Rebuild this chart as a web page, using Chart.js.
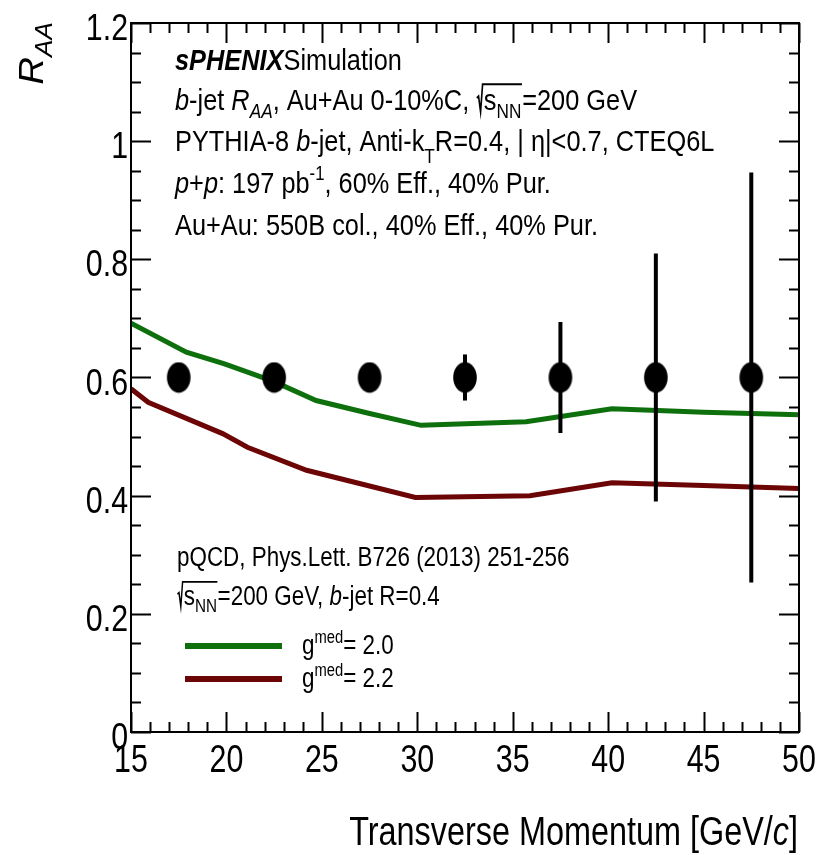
<!DOCTYPE html>
<html><head><meta charset="utf-8">
<script src="https://cdn.jsdelivr.net/npm/chart.js@4/dist/chart.umd.min.js"></script>
<style>html,body{margin:0;padding:0;background:#fff;}canvas{display:block}</style>
</head><body>
<canvas id="c" width="828" height="855"></canvas>
<script>
// ---- data ----
const ptX   = [17.5, 22.5, 27.5, 32.5, 37.5, 42.5, 47.5];
const ptY   = [0.6, 0.6, 0.6, 0.6, 0.6, 0.6, 0.6];
const ptErr = [0.008, 0.012, 0.02, 0.039, 0.094, 0.21, 0.347];

const g20X = [15, 17.9, 19.9, 22.5, 24.7, 27.5, 30.2, 35.7, 40.2, 45, 50];
const g20Y = [0.692, 0.643, 0.623, 0.593, 0.561, 0.539, 0.519, 0.525, 0.547, 0.541, 0.537];

const g22X = [15, 15.9, 19.8, 21.1, 24.2, 29.9, 35.9, 40.2, 45, 50];
const g22Y = [0.581, 0.558, 0.505, 0.482, 0.443, 0.397, 0.400, 0.422, 0.417, 0.412];

const seriesLabels = ['2.0', '2.2'];

const xTickVals   = [15, 20, 25, 30, 35, 40, 45, 50];
const xTickLabels = ['15', '20', '25', '30', '35', '40', '45', '50'];
const yTickVals   = [0, 0.2, 0.4, 0.6, 0.8, 1, 1.2];
const yTickLabels = ['0', '0.2', '0.4', '0.6', '0.8', '1', '1.2'];

const xTitle = 'Transverse Momentum [GeV/';
// ---- helpers ----
const FONT = '"Liberation Sans", Arial, Helvetica, sans-serif';
const GREEN = '#0d700d';
const RED = '#6c0505';
function fontStr(st, sz) { return (st || 'normal') + ' ' + sz + 'px ' + FONT; }

function layoutRich(ctx, segs, size, draw, x0, y0) {
  let x = x0;
  for (const s of segs) {
    if (s.sqrt) {
      const sx = x;
      x += size * 0.30;
      const end = layoutRich(ctx, s.sqrt, size, draw, x, y0);
      if (draw) {
        ctx.save();
        ctx.lineWidth = size * 0.065;
        ctx.strokeStyle = '#000';
        ctx.lineJoin = 'miter';
        ctx.beginPath();
        ctx.moveTo(sx + size * 0.02, y0 - size * 0.40);
        ctx.lineTo(sx + size * 0.09, y0 - size * 0.46);
        ctx.lineTo(sx + size * 0.17, y0 + size * 0.06);
        ctx.lineTo(sx + size * 0.25, y0 - size * 0.86);
        ctx.lineTo(end + size * 0.02, y0 - size * 0.86);
        ctx.stroke();
        ctx.restore();
      }
      x = end + size * 0.03;
      continue;
    }
    let sz = size, dy = 0;
    if (s.sub) { sz = size * 0.68; dy = size * (s.low || 0.26); }
    if (s.sup) { sz = size * 0.66; dy = -size * 0.42; }
    ctx.font = fontStr(s.f, sz);
    if (draw) ctx.fillText(s.t, x, y0 + dy);
    x += ctx.measureText(s.t).width + (s.dx || 0) * size;
  }
  return x;
}
function drawRich(ctx, x, y, segs, size, hs, align) {
  ctx.save();
  ctx.translate(x, y);
  ctx.scale(hs, 1);
  ctx.fillStyle = '#000';
  ctx.textBaseline = 'alphabetic';
  ctx.textAlign = 'left';
  let start = 0;
  if (align === 'right' || align === 'center') {
    const w = layoutRich(ctx, segs, size, false, 0, 0);
    start = align === 'right' ? -w : -w / 2;
  }
  layoutRich(ctx, segs, size, true, start, 0);
  ctx.restore();
}

const topLines = [
  { y: 70,  segs: [{ t: 'sPHENIX', f: 'italic bold' }, { t: 'Simulation' }] },
  { y: 110, segs: [{ t: 'b', f: 'italic' }, { t: '-jet ' }, { t: 'R', f: 'italic' }, { t: 'AA', f: 'italic', sub: 1 },
                   { t: ', Au+Au 0-10%C, ' }, { sqrt: [{ t: 's' }, { t: 'NN', sub: 1 }] }, { t: '=200 GeV' }] },
  { y: 151, segs: [{ t: 'PYTHIA-8 ' }, { t: 'b', f: 'italic' }, { t: '-jet, Anti-k' }, { t: 'T', sub: 1, low: 0.40 },
                   { t: 'R=0.4, | η|<0.7, CTEQ6L' }] },
  { y: 193, segs: [{ t: 'p', f: 'italic' }, { t: '+' }, { t: 'p', f: 'italic' }, { t: ': 197 pb' }, { t: '-1', sup: 1 },
                   { t: ', 60% Eff., 40% Pur.' }] },
  { y: 235, segs: [{ t: 'Au+Au: 550B col., 40% Eff., 40% Pur.' }] }
];
const lowLines = [
  { y: 566, segs: [{ t: 'pQCD, Phys.Lett. B726 (2013) 251-256' }] },
  { y: 605, segs: [{ sqrt: [{ t: 's' }, { t: 'NN', sub: 1 }] }, { t: '=200 GeV, ' }, { t: 'b', f: 'italic' }, { t: '-jet R=0.4' }] }
];

// marker image (ellipse)
const mk = document.createElement('canvas');
mk.width = 26; mk.height = 32;
(function () {
  const c = mk.getContext('2d');
  c.fillStyle = '#000';
  c.beginPath();
  c.ellipse(13, 16, 11.8, 15.2, 0, 0, Math.PI * 2);
  c.fill();
})();

const decor = {
  id: 'decor',
  afterDatasetsDraw(chart) {
    const ctx = chart.ctx, xs = chart.scales.x, ys = chart.scales.y;
    // error bars
    ctx.save();
    ctx.strokeStyle = '#000';
    ctx.lineWidth = 4;
    ctx.lineCap = 'butt';
    for (let i = 0; i < ptX.length; i++) {
      const px = xs.getPixelForValue(ptX[i]);
      ctx.beginPath();
      ctx.moveTo(px, ys.getPixelForValue(ptY[i] - ptErr[i]));
      ctx.lineTo(px, ys.getPixelForValue(ptY[i] + ptErr[i]));
      ctx.stroke();
    }
    ctx.restore();
  },
  afterDraw(chart) {
    const ctx = chart.ctx, xs = chart.scales.x, ys = chart.scales.y;
    const a = chart.chartArea;
    ctx.save();
    ctx.strokeStyle = '#000';
    ctx.lineWidth = 2;
    ctx.strokeRect(a.left, a.top, a.right - a.left, a.bottom - a.top);
    ctx.beginPath();
    for (let v = 15; v <= 50; v++) {
      const px = Math.round(xs.getPixelForValue(v)) + 0.5;
      const L = v % 5 === 0 ? 20 : 10;
      ctx.moveTo(px, a.bottom); ctx.lineTo(px, a.bottom - L);
      ctx.moveTo(px, a.top); ctx.lineTo(px, a.top + L);
    }
    for (let k = 0; k <= 24; k++) {
      const py = Math.round(ys.getPixelForValue(k * 0.05)) + 0.5;
      const L = k % 4 === 0 ? 20 : 10;
      ctx.moveTo(a.left, py); ctx.lineTo(a.left + L, py);
      ctx.moveTo(a.right, py); ctx.lineTo(a.right - L, py);
    }
    ctx.stroke();
    ctx.restore();

    // tick labels
    xTickVals.forEach((v, i) => {
      drawRich(ctx, xs.getPixelForValue(v), 772, [{ t: xTickLabels[i] }], 38, 0.8, 'center');
    });
    yTickVals.forEach((v, i) => {
      drawRich(ctx, 128, ys.getPixelForValue(v) + 17, [{ t: yTickLabels[i] }], 37, 0.82, 'right');
    });

    // axis titles
    drawRich(ctx, 798, 845, [{ t: xTitle }, { t: 'c', f: 'italic' }, { t: ']' }], 41, 0.79, 'right');
    ctx.save();
    ctx.translate(43, 22);
    ctx.rotate(-Math.PI / 2);
    drawRich(ctx, 0, 0, [{ t: 'R', f: 'italic' }, { t: 'AA', f: 'italic', sub: 1 }], 35, 1.1, 'right');
    ctx.restore();

    // annotations
    topLines.forEach(l => drawRich(ctx, 175, l.y, l.segs, 30, 0.845));
    lowLines.forEach(l => drawRich(ctx, 177, l.y, l.segs, 27, 0.83));

    // legend
    const ds = chart.data.datasets;
    const legY = [646, 679];
    [0, 1].forEach(i => {
      ctx.save();
      ctx.strokeStyle = ds[i].borderColor;
      ctx.lineWidth = 6;
      ctx.beginPath();
      ctx.moveTo(185, legY[i]); ctx.lineTo(282, legY[i]);
      ctx.stroke();
      ctx.restore();
      drawRich(ctx, 302, legY[i] + 8, [{ t: 'g' }, { t: 'med', sup: 1 }, { t: '= ' + seriesLabels[i] }], 27, 0.83);
    });
  }
};

new Chart(document.getElementById('c'), {
  type: 'line',
  data: {
    datasets: [
      { label: 'g=' + seriesLabels[0], data: g20X.map((x, i) => ({ x, y: g20Y[i] })),
        borderColor: GREEN, borderWidth: 5, pointRadius: 0, tension: 0, fill: false, order: 2 },
      { label: 'g=' + seriesLabels[1], data: g22X.map((x, i) => ({ x, y: g22Y[i] })),
        borderColor: RED, borderWidth: 5, pointRadius: 0, tension: 0, fill: false, order: 3 },
      { label: 'sim', type: 'scatter', data: ptX.map((x, i) => ({ x, y: ptY[i] })),
        pointStyle: mk, pointRadius: 13, backgroundColor: '#000', borderColor: '#000', showLine: false, order: 1 }
    ]
  },
  options: {
    responsive: false,
    animation: false,
    events: [],
    layout: { padding: { left: 131, top: 23, right: 29, bottom: 123 } },
    plugins: { legend: { display: false }, tooltip: { enabled: false } },
    scales: {
      x: { type: 'linear', min: 15, max: 50, display: false },
      y: { type: 'linear', min: 0, max: 1.2, display: false }
    }
  },
  plugins: [decor]
});
</script>
</body></html>
